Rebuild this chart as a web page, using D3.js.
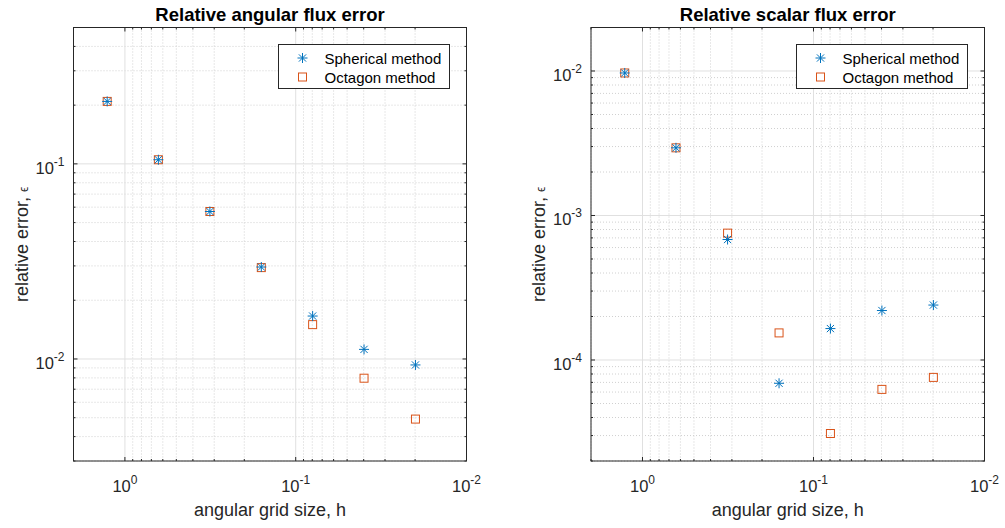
<!DOCTYPE html>
<html lang="en">
<head>
  <meta charset="UTF-8">
  <title>Relative flux error</title>
  <script src="https://d3js.org/d3.v7.min.js"></script>
  <style>
    body { margin: 0; background: #fff; font-family: "Liberation Sans", Arial, sans-serif; }
    .title { font-weight: bold; font-size: 18.5px; fill: #000; }
    .label { font-size: 18px; fill: #262626; }
    .tick-label { font-size: 16.5px; fill: #262626; }
    .legend-text { font-size: 15px; fill: #000; }
  </style>
</head>
<body>
  <svg width="1005" height="528"></svg>
  <script>
    // angular grid size h
    const hValues = [1.27, 0.637, 0.318, 0.159, 0.0796, 0.0398, 0.0199];

    // relative angular flux error
    const angularSpherical = [0.209, 0.105, 0.057, 0.0296, 0.0166, 0.0112, 0.00932];
    const angularOctagon   = [0.209, 0.105, 0.057, 0.0294, 0.0150, 0.00797, 0.00492];

    // relative scalar flux error
    const scalarSpherical = [0.00969, 0.00294, 6.82e-4, 6.9e-5, 1.65e-4, 2.2e-4, 2.4e-4];
    const scalarOctagon   = [0.00969, 0.00294, 7.55e-4, 1.54e-4, 3.1e-5, 6.26e-5, 7.58e-5];

    const xTickExps = [0, -1, -2];
    const angularYTickExps = [-1, -2];
    const scalarYTickExps = [-2, -3, -4];

    const seriesNames = ["Spherical method", "Octagon method"];
    const blue = "#0072BD", orange = "#D95319";

    const svg = d3.select("svg");

    function drawPanel(opts) {
      const g = svg.append("g");
      const x = d3.scaleLog().domain([2, 0.01]).range([opts.left, opts.right]);
      const y = d3.scaleLog().domain(opts.yDomain).range([opts.bottom, opts.top]);

      const xAll = x.ticks();
      const yAll = y.ticks();
      const isMajor = v => Math.abs(Math.log10(v) - Math.round(Math.log10(v))) < 1e-9;

      // minor grid
      g.selectAll(".xminor").data(xAll.filter(v => !isMajor(v))).enter().append("line")
        .attr("x1", d => x(d)).attr("x2", d => x(d))
        .attr("y1", opts.top).attr("y2", opts.bottom)
        .attr("stroke", "#d0d0d0").attr("stroke-dasharray", "1,2");
      g.selectAll(".yminor").data(yAll.filter(v => !isMajor(v))).enter().append("line")
        .attr("y1", d => y(d)).attr("y2", d => y(d))
        .attr("x1", opts.left).attr("x2", opts.right)
        .attr("stroke", "#d0d0d0").attr("stroke-dasharray", "1,2");
      // major grid
      g.selectAll(".xmajor").data(xTickExps.map(e => Math.pow(10, e))).enter().append("line")
        .attr("x1", d => x(d)).attr("x2", d => x(d))
        .attr("y1", opts.top).attr("y2", opts.bottom)
        .attr("stroke", "#e0e0e0");
      g.selectAll(".ymajor").data(opts.yTickExps.map(e => Math.pow(10, e))).enter().append("line")
        .attr("y1", d => y(d)).attr("y2", d => y(d))
        .attr("x1", opts.left).attr("x2", opts.right)
        .attr("stroke", "#e0e0e0");

      // inward ticks on all four sides
      xAll.forEach(v => {
        const l = isMajor(v) ? 4 : 2;
        g.append("line").attr("x1", x(v)).attr("x2", x(v)).attr("y1", opts.bottom).attr("y2", opts.bottom - l).attr("stroke", "#262626");
        g.append("line").attr("x1", x(v)).attr("x2", x(v)).attr("y1", opts.top).attr("y2", opts.top + l).attr("stroke", "#262626");
      });
      yAll.forEach(v => {
        const l = isMajor(v) ? 4 : 2;
        g.append("line").attr("y1", y(v)).attr("y2", y(v)).attr("x1", opts.left).attr("x2", opts.left + l).attr("stroke", "#262626");
        g.append("line").attr("y1", y(v)).attr("y2", y(v)).attr("x1", opts.right).attr("x2", opts.right - l).attr("stroke", "#262626");
      });

      // box
      g.append("rect")
        .attr("x", opts.left).attr("y", opts.top)
        .attr("width", opts.right - opts.left).attr("height", opts.bottom - opts.top)
        .attr("fill", "none").attr("stroke", "#262626").attr("stroke-width", 1);

      // tick labels
      xTickExps.forEach(e => {
        const t = g.append("text").attr("class", "tick-label")
          .attr("x", x(Math.pow(10, e))).attr("y", opts.bottom + 31)
          .attr("text-anchor", "middle");
        t.append("tspan").text("10");
        t.append("tspan").attr("dy", -8).attr("font-size", 12).text(e);
      });
      opts.yTickExps.forEach(e => {
        const t = g.append("text").attr("class", "tick-label")
          .attr("x", opts.left - 9).attr("y", y(Math.pow(10, e)) + 10)
          .attr("text-anchor", "end");
        t.append("tspan").text("10");
        t.append("tspan").attr("dy", -8).attr("font-size", 12).text(e);
      });

      // title and labels
      g.append("text").attr("class", "title")
        .attr("x", (opts.left + opts.right) / 2).attr("y", 21)
        .attr("text-anchor", "middle").text(opts.title);
      g.append("text").attr("class", "label")
        .attr("x", (opts.left + opts.right) / 2).attr("y", opts.bottom + 55)
        .attr("text-anchor", "middle").text("angular grid size, h");
      const yl = g.append("text").attr("class", "label")
        .attr("transform", `translate(${opts.left - 46},${(opts.top + opts.bottom) / 2}) rotate(-90)`)
        .attr("text-anchor", "middle");
      yl.append("tspan").text("relative error, ");
      yl.append("tspan").attr("font-size", 12).text("\u03F5");

      // markers
      const sph = hValues.map((h, i) => ({ h, v: opts.sph[i] }));
      const oct = hValues.map((h, i) => ({ h, v: opts.oct[i] }));

      g.selectAll(".oct").data(oct).enter().append("rect")
        .attr("x", d => x(d.h) - 4).attr("y", d => y(d.v) - 4)
        .attr("width", 8).attr("height", 8)
        .attr("fill", "none").attr("stroke", orange).attr("stroke-width", 1);

      const s = 5, sd = 3.6;
      const starPath = `M${-s},0L${s},0M0,${-s}L0,${s}M${-sd},${-sd}L${sd},${sd}M${-sd},${sd}L${sd},${-sd}`;
      g.selectAll(".sph").data(sph).enter().append("path")
        .attr("transform", d => `translate(${x(d.h)},${y(d.v)})`)
        .attr("d", starPath)
        .attr("fill", "none").attr("stroke", blue).attr("stroke-width", 1);

      // legend
      const lx = opts.right - 188, ly = 44.5;
      const lg = g.append("g");
      lg.append("rect").attr("x", lx).attr("y", ly).attr("width", 171).attr("height", 44)
        .attr("fill", "#fff").attr("stroke", "#262626").attr("stroke-width", 1);
      lg.append("path").attr("transform", `translate(${lx + 24},${ly + 13.5})`)
        .attr("d", starPath).attr("fill", "none").attr("stroke", blue);
      lg.append("rect").attr("x", lx + 24 - 4).attr("y", ly + 32.5 - 4)
        .attr("width", 8).attr("height", 8).attr("fill", "none").attr("stroke", orange);
      seriesNames.forEach((n, i) => {
        lg.append("text").attr("class", "legend-text")
          .attr("x", lx + 46).attr("y", ly + 19 + i * 19).text(n);
      });
    }

    drawPanel({
      left: 73.5, right: 466.5, top: 27.5, bottom: 461,
      yDomain: [0.003, 0.5], yTickExps: angularYTickExps,
      title: "Relative angular flux error",
      sph: angularSpherical, oct: angularOctagon
    });
    drawPanel({
      left: 591, right: 984.5, top: 27.5, bottom: 461,
      yDomain: [2e-5, 0.02], yTickExps: scalarYTickExps,
      title: "Relative scalar flux error",
      sph: scalarSpherical, oct: scalarOctagon
    });
  </script>
</body>
</html>
